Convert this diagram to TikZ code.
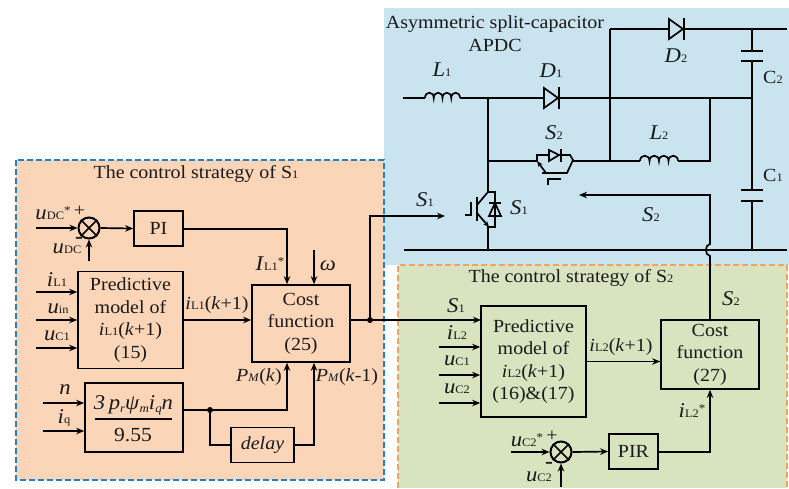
\documentclass[tikz,border=0pt]{standalone}
\usepackage{fontspec}
\setmainfont[FakeStretch=1.08]{Liberation Serif}
\usetikzlibrary{arrows.meta,calc}
\newcommand\lowt[1]{{\fontsize{11.5}{11.5}\selectfont #1}}
\newcommand\lowd[1]{\raisebox{-3pt}{\fontsize{12}{12}\selectfont\textit{#1}}}
\newcommand\starr{\raisebox{5.5pt}{\fontsize{12}{12}\selectfont *}}
\newcommand\bigit[1]{{\fontsize{21}{21}\selectfont\textit{#1}}}
\newcommand\vr[2]{\bigit{#1}\lowt{#2}}
\newcommand\minussign{{\fontsize{22}{22}\selectfont\textbf{-}}}
\newcommand\coil[2]{\draw[wire] (#1) .. controls +(0,-7) and +(0,-7) .. ++(#2,0) .. controls +(0,-7) and +(0,-7) .. ++(#2,0) .. controls +(0,-7) and +(0,-7) .. ++(#2,0) .. controls +(0,-7) and +(0,-7) .. ++(#2,0);}
\definecolor{orangefill}{HTML}{FBD5B7}
\definecolor{bluefill}{HTML}{C9E4EE}
\definecolor{greenfill}{HTML}{D8E3BF}
\definecolor{bluedash}{HTML}{2180C8}
\definecolor{orangedash}{HTML}{F4A460}
\definecolor{ink}{HTML}{1A1A1A}
\tikzset{
  wire/.style={line width=1.7pt,draw=black},
  arrowline/.style={wire,-{Stealth[length=8pt,width=6.5pt]}},
  blockbox/.style={draw=black,line width=1.7pt,inner sep=0pt,align=center,text=ink,font=\fontsize{18.5}{22.5}\selectfont},
  sumnode/.style={draw=black,line width=2pt,circle,minimum size=21pt,inner sep=0pt},
  lab/.style={inner sep=0pt,text=ink,font=\fontsize{18.5}{22.5}\selectfont,align=center},
  dotnode/.style={circle,fill=black,minimum size=6pt,inner sep=0pt},
}
\begin{document}
\begin{tikzpicture}[x=1pt,y=-1pt]
\useasboundingbox (0,0) rectangle (789,488);
% panels
\fill[bluefill] (384,8) rectangle (789,265);
\fill[greenfill] (398,265) rectangle (787,488);
\draw[draw=orangedash,line width=1.7pt,dash pattern=on 6pt off 3pt] (398,488) -- (398,265) -- (787,265) -- (787,488);
\draw[fill=orangefill,draw=bluedash,line width=1.7pt,dash pattern=on 6pt off 3pt] (16,160) rectangle (384,480);
% titles
\node[lab] (tA) at (196,174) {The control strategy of S\lowt{1}};
\node[lab] (tB) at (571,278) {The control strategy of S\lowt{2}};
\node[lab] (tC) at (495,24) {Asymmetric split-capacitor};
\node[lab] (tD) at (495,45) {APDC};
% S1 blocks
\node[sumnode] (sumA) at (89,228) {};
\draw[line width=1.6pt] (sumA.north west) -- (sumA.south east) (sumA.north east) -- (sumA.south west);
\node[blockbox,minimum width=49pt,minimum height=35pt] (pi) at (158.5,228.5) {PI};
\node[blockbox,minimum width=105pt,minimum height=97pt] (predA) at (130.5,320) {Predictive\\model of\\\textit{i}\lowt{L1}(\textit{k}+1)\\(15)};
\node[blockbox,minimum width=98pt,minimum height=77pt] (costA) at (301,323.5) {Cost\\function\\(25)};
\node[blockbox,minimum width=98pt,minimum height=69pt] (frac) at (134,417.5) {};
\node[lab] (fracT) at (133.5,405) {\bigit{3\,p}\lowd{r}\bigit{ψ}\lowd{m}\bigit{i}\lowd{q}\bigit{n}};
\node[lab] (fracB) at (133,435) {\fontsize{20}{20}\selectfont 9.55};
\draw[line width=1.1pt] (95,419) -- (172,419);
\node[blockbox,minimum width=63pt,minimum height=35pt] (delay) at (262.5,445) {\textit{delay}};
% S1 inputs
\coordinate (inDC) at (36,228);
\coordinate (inDCb) at (89,261);
\coordinate (inIL) at (36,292);
\coordinate (inUin) at (36,320);
\coordinate (inUC) at (36,348);
\coordinate (inN) at (43,403);
\coordinate (inQ) at (43,431);
\coordinate (inW) at (314,250);
\coordinate (kA) at (287,229);
\coordinate (kB) at (287,410);
\coordinate (kC) at (314,445);
\draw[arrowline] (inDC) -- (sumA.west);
\draw[arrowline] (inDCb) -- (sumA.south);
\draw[arrowline] (sumA.east) -- (pi.west);
\draw[arrowline] (pi.east |- kA) -- (kA) -- (kA |- costA.north);
\draw[arrowline] (inW) -- (inW |- costA.north);
\draw[arrowline] (inIL) -- (inIL -| predA.west);
\draw[arrowline] (inUin) -- (inUin -| predA.west);
\draw[arrowline] (inUC) -- (inUC -| predA.west);
\draw[arrowline] (inN) -- (inN -| frac.west);
\draw[arrowline] (inQ) -- (inQ -| frac.west);
\draw[arrowline] (predA.east) -- (predA.east -| costA.west);
\node[dotnode] (jB) at (210,410) {};
\draw[wire] (frac.east |- kB) -- (jB);
\draw[arrowline] (jB) -- (kB) -- (kB |- costA.south);
\draw[wire] (jB) -- (jB |- delay.west) -- (delay.west);
\draw[arrowline] (delay.east) -- (kC) -- (kC |- costA.south);
% S2 blocks
\node[blockbox,minimum width=105pt,minimum height=111pt] (predB) at (533.5,361.5) {Predictive\\model of\\\textit{i}\lowt{L2}(\textit{k}+1)\\(16)\&(17)};
\node[blockbox,minimum width=98pt,minimum height=69pt] (costB) at (710,354.5) {Cost\\function\\(27)};
\node[blockbox,minimum width=49pt,minimum height=35pt] (pir) at (633.5,451.5) {PIR};
\node[sumnode] (sumB) at (561,452) {};
\draw[line width=1.6pt] (sumB.north west) -- (sumB.south east) (sumB.north east) -- (sumB.south west);
\coordinate (inUCB) at (511,452);
\coordinate (inUCBb) at (561,487);
\coordinate (inIL2) at (439,347);
\coordinate (inUC1) at (439,375);
\coordinate (inUC2) at (439,403);
\coordinate (kD) at (710,452);
\draw[arrowline] (inUCB) -- (sumB.west);
\draw[arrowline] (inUCBb) -- (sumB.south);
\draw[arrowline] (sumB.east) -- (pir.west);
\draw[arrowline] (pir.east |- kD) -- (kD) -- (costB.south);
\draw[arrowline] (inIL2) -- (inIL2 -| predB.west);
\draw[arrowline] (inUC1) -- (inUC1 -| predB.west);
\draw[arrowline] (inUC2) -- (inUC2 -| predB.west);
\draw[arrowline] (predB.east) -- (predB.east -| costB.west);
% S1 signal
\node[dotnode] (jA) at (370,320) {};
\coordinate (kE) at (370,216);
\coordinate (gateIn) at (445,216);
\coordinate (s1In) at (481,320);
\draw[wire] (costA.east |- jA) -- (jA);
\draw[arrowline] (jA) -- (s1In);
\draw[arrowline] (jA) -- (kE) -- (gateIn);
% circuit
\coordinate (aL) at (403,98);
\coordinate (aT) at (610,29);
\coordinate (aTr) at (787,29);
\coordinate (aCn) at (752,98);
\coordinate (aB) at (404,250);
\coordinate (aBr) at (787,250);
\coil{425,98}{8.75}
\draw[wire] (aL) -- (425,98) (460,98) -- (aCn);
\draw[wire] (aT) -- (aTr);
\draw[wire] (aT) -- (610,161);
\draw[wire] (aB) -- (aBr);
% D1
\draw[wire,fill=bluefill] (544,88) -- (558,98) -- (544,108) -- cycle;
\draw[wire] (559,87) -- (559,109);
% D2
\draw[wire,fill=bluefill] (669,19) -- (683,29) -- (669,39) -- cycle;
\draw[wire] (684,18) -- (684,40);
% capacitors
\draw[wire] (752,29) -- (752,51) (741,51) -- (763,51) (741,61) -- (763,61) (752,61) -- (752,190) (741,190) -- (763,190) (741,201) -- (763,201) (752,201) -- (752,250);
% L2 branch
\draw[wire] (488,161) -- (537,161) (573,161) -- (640,161);
\coil{640,161}{9.5}
\draw[wire] (678,161) -- (710,161) -- (710,98);
% S2 device
\draw[wire] (537,161) -- (537,155) -- (570,155) -- (573,160) -- (567,173) -- (542,173);
\draw[wire,-{Stealth[length=6pt,width=5pt]}] (546,173) -- (537,161);
\draw[wire,fill=bluefill] (549,150) -- (559,155) -- (549,161) -- cycle;
\draw[wire] (561,149) -- (561,162);
\draw[wire] (548,185) -- (548,179) -- (561,179);
% S1 IGBT
\draw[wire] (488,98) -- (488,192) -- (495,192) -- (495,227) -- (488,227) -- (488,250);
\draw[wire] (477,197) -- (477,221);
\draw[wire] (477,205) -- (488,192);
\draw[wire,-{Stealth[length=6pt,width=5pt]}] (477,213) -- (489,227);
\draw[wire] (471,202) -- (471,215) -- (465,215);
\draw[wire] (489,203) -- (501,203);
\draw[wire] (495,203) -- (489,216) -- (501,216) -- cycle;
% S2 feedback with hop
\coordinate (fbEnd) at (579,195);
\coordinate (fbC) at (710,195);
\draw[arrowline] (costB.north) -- (710,256) .. controls (704.5,255) and (704.5,245) .. (710,244) -- (fbC) -- (fbEnd);
% circuit labels
\node[lab] (nL1) at (442,70) {\vr{L}{1}};
\node[lab] (nD1) at (551,71) {\vr{D}{1}};
\node[lab] (nD2) at (676,56) {\vr{D}{2}};
\node[lab] (nC2) at (773,77) {C\lowt{2}};
\node[lab] (nS2a) at (554,133) {\vr{S}{2}};
\node[lab] (nL2) at (659,133) {\vr{L}{2}};
\node[lab] (nC1) at (773,175) {C\lowt{1}};
\node[lab] (nS1a) at (425,200) {\vr{S}{1}};
\node[lab] (nS1b) at (519,208) {\vr{S}{1}};
\node[lab] (nS2b) at (651,215) {\vr{S}{2}};
% S1 labels
\node[lab] (n1) at (53,213) {\vr{u}{DC}\starr};
\node[lab] (n2) at (79.5,211) {+};
\node[lab] (n3) at (67,248.5) {\vr{u}{DC}};
\node[lab] (n4) at (79,240) {\minussign};
\node[lab] (n5) at (270,264) {\vr{I}{L1}\starr};
\node[lab] (n6) at (328,266) {\bigit{ω}};
\node[lab] (n7) at (57,280) {\vr{i}{L1}};
\node[lab] (n8) at (58,309) {\vr{u}{in}};
\node[lab] (n9) at (57,336) {\vr{u}{C1}};
\node[lab] (n10) at (217,305) {\textit{i}\lowt{L1}(\textit{k}+1)};
\node[lab] (n11) at (259,377) {\textit{P}\lowt{\textit{M}}(\textit{k})};
\node[lab] (n12) at (347,377) {\textit{P}\lowt{\textit{M}}(\textit{k}-1)};
\node[lab] (n13) at (65,390) {\bigit{n}};
\node[lab] (n14) at (64,418) {\vr{i}{q}};
% S2 labels
\node[lab] (m1) at (456,306) {\vr{S}{1}};
\node[lab] (m2) at (457,333) {\vr{i}{L2}};
\node[lab] (m3) at (457,361) {\vr{u}{C1}};
\node[lab] (m4) at (457,389) {\vr{u}{C2}};
\node[lab] (m5) at (731,299) {\vr{S}{2}};
\node[lab] (m6) at (621,347) {\textit{i}\lowt{L2}(\textit{k}+1)};
\node[lab] (m7) at (692,411) {\vr{i}{L2}\starr};
\node[lab] (m8) at (527,440) {\vr{u}{C2}\starr};
\node[lab] (m9) at (552,436) {+};
\node[lab] (m10) at (539,477) {\vr{u}{C2}};
\node[lab] (m11) at (549,465) {\minussign};
\end{tikzpicture}
\end{document}
